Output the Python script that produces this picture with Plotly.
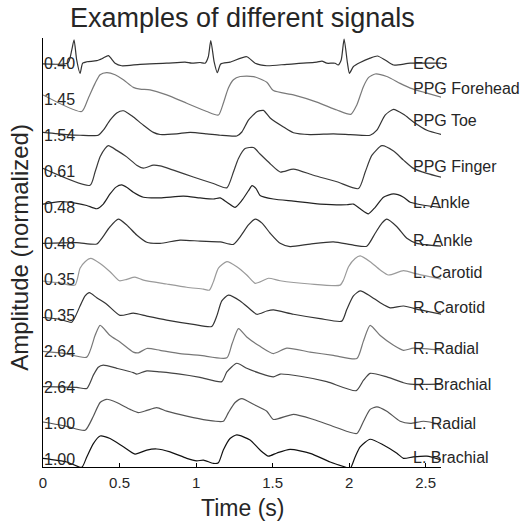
import numpy as np
import plotly.graph_objects as go

# ---- data (time in s, amplitude relative to each row's baseline) ----
names = ["ECG", "PPG Forehead", "PPG Toe", "PPG Finger", "L. Ankle", "R. Ankle",
         "L. Carotid", "R. Carotid", "R. Radial", "R. Brachial", "L. Radial", "L. Brachial"]
scale_labels = ["0.40", "1.45", "1.54", "0.61", "0.48", "0.48",
                "0.35", "0.35", "2.64", "2.64", "1.00", "1.00"]
colors = ["#333333", "#7a7a7a", "#333333", "#3a3a3a", "#222222", "#333333",
          "#9a9a9a", "#333333", "#777777", "#444444", "#555555", "#111111"]

ecg_t = [0, 0.163, 0.188, 0.203, 0.220, 0.242, 0.259, 0.286, 0.351, 0.392, 0.427, 0.471, 0.514, 0.634,
         0.808, 0.928, 0.972, 1.026, 1.059, 1.080, 1.096, 1.118, 1.139, 1.161, 1.222, 1.331, 1.386, 1.462,
         1.593, 1.789, 1.822, 1.854, 1.908, 1.928, 1.948, 1.967, 1.989, 2.002, 2.028, 2.072, 2.137, 2.185,
         2.235, 2.290, 2.399, 2.601]
ecg_v = [-0.02, 0.01, 0.37, 0.65, 0.09, -0.28, 0, 0.04, 0.07, 0.14, 0.21, 0, -0.07, -0.03,
         0, 0.03, 0, 0.02, 0, 0.18, 0.63, 0.04, -0.26, -0.02, 0.03, 0.18, 0, -0.07,
         -0.03, 0.03, 0.06, 0, 0, -0.05, 0.09, 0.67, 0, -0.28, -0.09, 0.02, 0.14, 0.20,
         0.09, -0.05, 0, 0]

forehead_t = [0, 0.253, 0.296, 0.340, 0.373, 0.416, 0.471, 0.525, 0.590, 0.634, 0.699, 0.808, 0.939, 1.070,
              1.146, 1.178, 1.211, 1.244, 1.288, 1.375, 1.462, 1.505, 1.636, 1.789, 1.920, 2.011, 2.050,
              2.093, 2.126, 2.170, 2.246, 2.333, 2.399, 2.508, 2.606]
forehead_v = [0.12, -0.34, 0.03, 0.44, 0.68, 0.74, 0.68, 0.54, 0.33, 0.28, 0.26, 0.12, -0.11, -0.34,
              -0.44, -0.11, 0.31, 0.54, 0.63, 0.63, 0.47, 0.24, 0.12, -0.08, -0.30, -0.42, -0.16,
              0.35, 0.60, 0.70, 0.63, 0.44, 0.31, 0.17, 0.05]

toe_t = [0, 0.155, 0.242, 0.361, 0.394, 0.438, 0.482, 0.525, 0.580, 0.656, 0.721, 0.765, 0.874, 0.961,
         1.070, 1.157, 1.266, 1.299, 1.342, 1.397, 1.440, 1.484, 1.571, 1.636, 1.745, 1.897, 2.007,
         2.137, 2.181, 2.235, 2.290, 2.355, 2.420, 2.508, 2.606]
toe_v = [0.08, 0.02, 0, 0, 0.14, 0.42, 0.62, 0.68, 0.54, 0.28, 0.08, 0.02, 0.04, 0.08,
         0.04, 0, -0.02, 0.09, 0.42, 0.65, 0.69, 0.48, 0.23, 0.07, 0.02, 0.04, 0.02,
         0, 0.14, 0.56, 0.72, 0.58, 0.37, 0.14, 0.02]

finger_t = [0, 0.307, 0.340, 0.373, 0.405, 0.427, 0.482, 0.547, 0.612, 0.656, 0.721, 0.765, 0.852, 0.982,
            1.113, 1.201, 1.244, 1.276, 1.320, 1.375, 1.418, 1.484, 1.549, 1.636, 1.767, 1.920, 2.061,
            2.105, 2.148, 2.214, 2.290, 2.355, 2.420, 2.508, 2.606]
finger_v = [0.08, -0.39, -0.02, 0.40, 0.63, 0.71, 0.58, 0.40, 0.17, 0.09, 0.17, 0.15, 0.03, -0.16,
            -0.34, -0.46, -0.02, 0.35, 0.63, 0.66, 0.48, 0.21, -0.02, 0.06, -0.11, -0.29, -0.48,
            -0.02, 0.44, 0.71, 0.56, 0.31, 0.08, -0.06, -0.17]

lankle_t = [0, 0.111, 0.220, 0.286, 0.351, 0.394, 0.438, 0.477, 0.514, 0.549, 0.590, 0.656, 0.765, 0.917,
            1.026, 1.113, 1.157, 1.201, 1.255, 1.299, 1.342, 1.366, 1.392, 1.418, 1.505, 1.636, 1.810,
            1.985, 2.028, 2.072, 2.126, 2.170, 2.224, 2.290, 2.355, 2.399, 2.497, 2.606]
lankle_v = [0.09, 0.16, 0.11, 0.05, -0.04, 0.09, 0.37, 0.56, 0.62, 0.55, 0.42, 0.28, 0.26, 0.31,
            0.26, 0.23, 0.26, 0.14, 0, 0.19, 0.46, 0.60, 0.52, 0.33, 0.23, 0.17, 0.09,
            0.07, 0.09, -0.04, -0.18, 0, 0.28, 0.37, 0.28, 0.14, 0.05, -0.01]

rankle_t = [0, 0.220, 0.351, 0.384, 0.438, 0.492, 0.547, 0.612, 0.678, 0.765, 0.895, 1.026, 1.157, 1.244,
            1.288, 1.342, 1.386, 1.431, 1.484, 1.549, 1.614, 1.745, 1.897, 2.028, 2.115, 2.170, 2.214,
            2.246, 2.312, 2.377, 2.442, 2.606]
rankle_v = [0, 0.02, -0.02, 0.14, 0.46, 0.67, 0.51, 0.23, 0.03, 0, 0.09, 0.06, 0.04, -0.03,
            0.18, 0.51, 0.67, 0.56, 0.28, 0, -0.09, -0.02, 0.04, -0.05, -0.08, 0.28, 0.56,
            0.67, 0.46, 0.14, 0, -0.08]

lcarotid_t = [0, 0.111, 0.209, 0.242, 0.275, 0.312, 0.373, 0.438, 0.499, 0.547, 0.601, 0.656, 0.808, 0.939,
              1.048, 1.087, 1.113, 1.146, 1.201, 1.266, 1.331, 1.386, 1.418, 1.473, 1.549, 1.745, 1.941,
              1.963, 1.996, 2.039, 2.072, 2.137, 2.203, 2.257, 2.355, 2.442, 2.606]
lcarotid_v = [-0.05, -0.10, -0.16, 0.31, 0.49, 0.58, 0.44, 0.21, -0.04, 0, 0.06, -0.02, -0.13, -0.22,
              -0.27, -0.30, -0.07, 0.31, 0.49, 0.35, 0.12, -0.11, -0.07, 0.03, -0.04, -0.13, -0.16,
              -0.02, 0.35, 0.58, 0.65, 0.49, 0.26, 0.12, 0.24, 0.15, 0]

rcarotid_t = [0, 0.111, 0.188, 0.242, 0.275, 0.303, 0.351, 0.416, 0.503, 0.590, 0.678, 0.808, 0.982, 1.102,
              1.135, 1.168, 1.211, 1.288, 1.353, 1.397, 1.462, 1.505, 1.636, 1.810, 1.952, 1.985, 2.028,
              2.072, 2.137, 2.203, 2.268, 2.355, 2.464, 2.606]
rcarotid_v = [-0.06, -0.11, -0.19, 0.26, 0.54, 0.63, 0.49, 0.31, 0, 0.06, -0.02, -0.13, -0.25, -0.31,
              -0.02, 0.40, 0.56, 0.40, 0.17, 0.03, 0.12, 0.15, 0.03, -0.09, -0.16, 0.17, 0.54,
              0.68, 0.54, 0.35, 0.21, 0.26, 0.15, 0.03]

rradial_t = [0, 0.144, 0.286, 0.340, 0.373, 0.438, 0.503, 0.590, 0.623, 0.678, 0.765, 0.895, 1.026, 1.201,
             1.235, 1.277, 1.331, 1.418, 1.505, 1.593, 1.745, 1.897, 2.050, 2.092, 2.137, 2.203, 2.290,
             2.355, 2.420, 2.606]
rradial_v = [0, -0.06, -0.16, 0.44, 0.72, 0.44, 0.26, -0.02, -0.04, 0.08, 0.03, -0.06, -0.11, -0.18,
             0.21, 0.63, 0.40, 0.14, -0.06, 0.09, -0.02, -0.11, -0.20, 0.27, 0.72, 0.44, 0.17,
             0.03, 0.09, 0.03]

rbrachial_t = [0, 0.220, 0.286, 0.329, 0.361, 0.394, 0.482, 0.590, 0.612, 0.678, 0.765, 0.895, 1.026, 1.168,
               1.201, 1.266, 1.331, 1.418, 1.505, 1.549, 1.680, 1.854, 2.046, 2.094, 2.137, 2.246, 2.355,
               2.399, 2.606]
rbrachial_v = [0.02, 0, -0.03, 0.34, 0.56, 0.62, 0.53, 0.41, 0.37, 0.46, 0.43, 0.37, 0.28, 0.16,
               0.43, 0.67, 0.53, 0.39, 0.29, 0.37, 0.31, 0.16, -0.09, 0.20, 0.39, 0.29, 0.13,
               0.09, 0.09]

lradial_t = [0, 0.155, 0.275, 0.329, 0.373, 0.416, 0.482, 0.569, 0.623, 0.678, 0.743, 0.808, 0.939, 1.070,
             1.178, 1.211, 1.255, 1.299, 1.375, 1.462, 1.505, 1.636, 1.767, 1.920, 2.050, 2.094, 2.137,
             2.181, 2.246, 2.333, 2.399, 2.486, 2.606]
lradial_v = [0.04, -0.08, -0.19, 0.20, 0.58, 0.67, 0.58, 0.39, 0.30, 0.36, 0.44, 0.34, 0.20, 0.09,
             0.06, 0.30, 0.58, 0.69, 0.53, 0.34, 0.11, 0.25, 0.11, -0.12, -0.28, 0.06, 0.39,
             0.46, 0.34, 0.06, 0, 0.06, -0.03]

lbrachial_t = [0, 0.155, 0.253, 0.286, 0.329, 0.373, 0.438, 0.525, 0.601, 0.678, 0.743, 0.830, 0.939, 1.004,
               1.048, 1.113, 1.146, 1.178, 1.222, 1.266, 1.353, 1.418, 1.473, 1.528, 1.614, 1.745, 1.876,
               1.974, 2.007, 2.039, 2.072, 2.137, 2.224, 2.312, 2.355, 2.420, 2.508, 2.606]
lbrachial_v = [0.03, -0.07, -0.22, 0.07, 0.44, 0.65, 0.58, 0.35, 0.15, 0.26, 0.29, 0.21, 0.03, -0.04,
               -0.02, -0.11, -0.09, 0.26, 0.58, 0.68, 0.54, 0.26, 0.09, 0.18, 0.28, 0.17, -0.07,
               -0.21, -0.25, 0.07, 0.35, 0.56, 0.40, 0.17, 0.03, 0.07, 0.09, -0.02]

x_ticks = [0, 0.5, 1, 1.5, 2, 2.5]
label_time = 2.405

series = [(ecg_t, ecg_v), (forehead_t, forehead_v), (toe_t, toe_v), (finger_t, finger_v),
          (lankle_t, lankle_v), (rankle_t, rankle_v), (lcarotid_t, lcarotid_v), (rcarotid_t, rcarotid_v),
          (rradial_t, rradial_v), (rbrachial_t, rbrachial_v), (lradial_t, lradial_v),
          (lbrachial_t, lbrachial_v)]

FONT = "Liberation Sans, Arial, sans-serif"
TXT = "#262626"

fig = go.Figure()
n = len(series)
for i, ((t, v), name, lab, col) in enumerate(zip(series, names, scale_labels, colors)):
    off = n - 1 - i
    fig.add_trace(go.Scatter(
        x=t, y=[off + a for a in v], mode="lines",
        line=dict(color=col, width=1.2, shape="spline", smoothing=0.6),
        showlegend=False, hoverinfo="skip"))
    fig.add_annotation(x=0, y=off, text=lab, xanchor="left", yanchor="middle",
                       showarrow=False, font=dict(family=FONT, size=16, color=TXT),
                       xshift=-1)
    fig.add_annotation(x=label_time, y=off + float(np.interp(label_time, t, v)), text=name,
                       xanchor="left", yanchor="middle", showarrow=False,
                       font=dict(family=FONT, size=16, color=TXT))

fig.add_annotation(x=0.5, y=1, xref="paper", yref="paper", yshift=20,
                   text="Examples of different signals", showarrow=False,
                   xanchor="center", yanchor="middle",
                   font=dict(family=FONT, size=27, color=TXT))
fig.add_annotation(x=-0.058, y=0.513, xref="paper", yref="paper",
                   text="Amplitude (normalized)", textangle=-90, showarrow=False,
                   xanchor="center", yanchor="middle",
                   font=dict(family=FONT, size=24, color=TXT))
fig.add_annotation(x=0.5, y=-0.095, xref="paper", yref="paper",
                   text="Time (s)", showarrow=False, xanchor="center", yanchor="middle",
                   font=dict(family=FONT, size=23, color=TXT))

fig.update_layout(
    width=532, height=522,
    margin=dict(l=43, r=91, t=38, b=55),
    plot_bgcolor="white", paper_bgcolor="white",
    font=dict(family=FONT, color=TXT),
    xaxis=dict(range=[0, 2.6], tickvals=x_ticks, ticks="inside", ticklen=4,
               tickcolor="black", showline=True, linecolor="black", linewidth=1,
               showgrid=False, zeroline=False, tickfont=dict(size=15, color=TXT),
               ticklabelstandoff=2),
    yaxis=dict(range=[-0.21, 11.7], showticklabels=False, ticks="", showline=True,
               linecolor="black", linewidth=1, showgrid=False, zeroline=False),
)

fig.write_html("out.html")
